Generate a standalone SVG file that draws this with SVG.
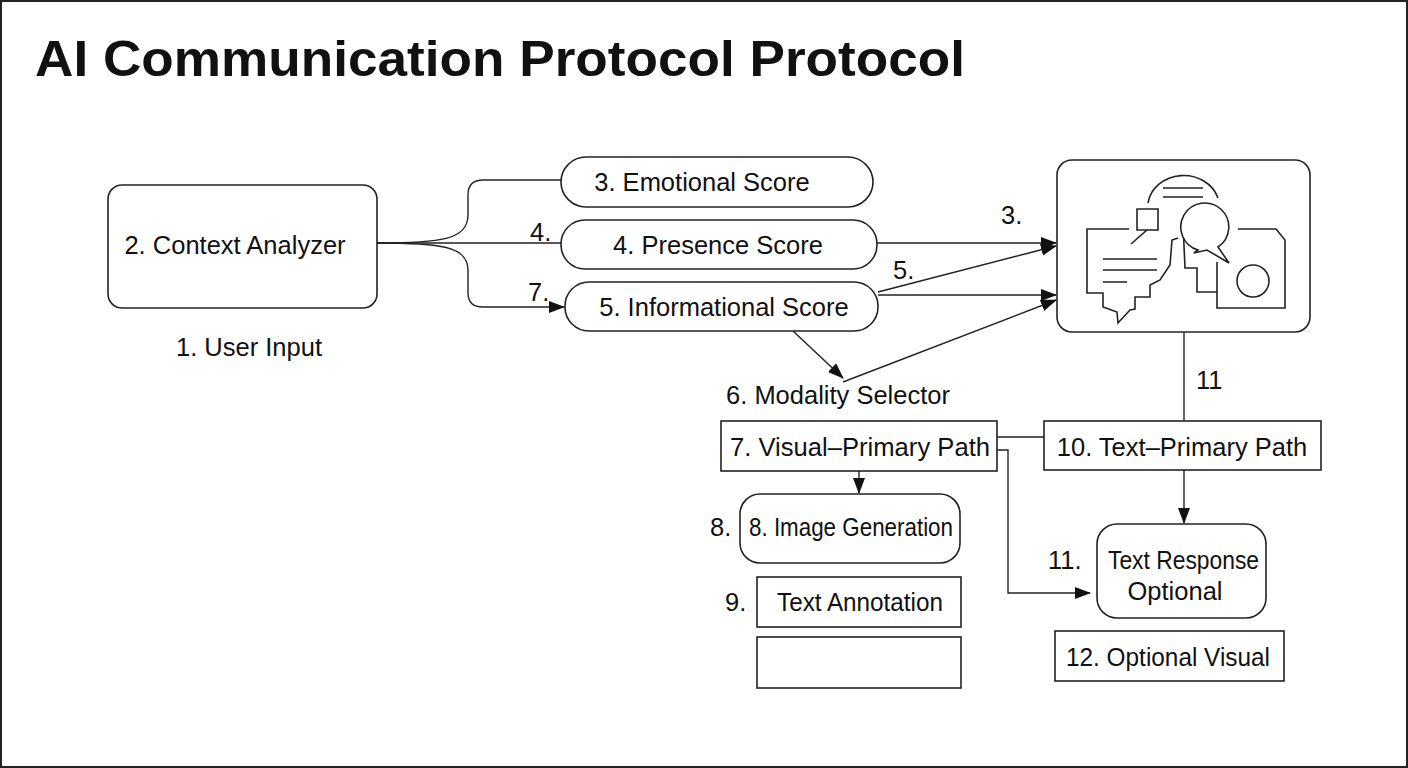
<svg xmlns="http://www.w3.org/2000/svg" width="1408" height="768" viewBox="0 0 1408 768">
<defs>
<marker id="ah" markerWidth="16" markerHeight="12" refX="15" refY="6" orient="auto" markerUnits="userSpaceOnUse"><path d="M0,0 L16,6 L0,12 z" fill="#111"/></marker>
<style>
.n{fill:#fff;stroke:#222;stroke-width:1.6}
.t{font-family:"Liberation Sans",Arial,sans-serif;font-size:25.5px;fill:#111;text-anchor:middle}
.l{font-family:"Liberation Sans",Arial,sans-serif;font-size:25.5px;fill:#111}
.c{fill:none;stroke:#222;stroke-width:1.4}
.i{fill:none;stroke:#222;stroke-width:1.6}
</style>
</defs>
<rect x="0" y="0" width="1408" height="768" fill="#fff"/>
<rect x="1" y="1" width="1406" height="766" fill="none" stroke="#222" stroke-width="2"/>
<text x="35" y="76" font-family="Liberation Sans,Arial,sans-serif" font-size="50" font-weight="bold" fill="#111" textLength="930" lengthAdjust="spacingAndGlyphs">AI Communication Protocol Protocol</text>

<g id="connectors">
<path class="c" d="M377,243 C440,243 468,240 468,215 L468,195 Q468,180 483,180 L561,180"/>
<path class="c" d="M377,243 L561,243"/>
<path class="c" d="M377,243 C440,243 468,246 468,270 L468,293 Q468,307 483,307 L564,307" marker-end="url(#ah)"/>
<path class="c" d="M877,243 L1056,243" marker-end="url(#ah)"/>
<path class="c" d="M878,295 L1056,295" marker-end="url(#ah)"/>
<path class="c" d="M878,292 L1056,246" marker-end="url(#ah)"/>
<path class="c" d="M793,331 L843,378" marker-end="url(#ah)"/>
<path class="c" d="M843,382 L1056,300" marker-end="url(#ah)"/>
<path class="c" d="M997,437 L1044,437"/>
<path class="c" d="M1184,332 L1184,421"/>
<path class="c" d="M859,471 L859,493" marker-end="url(#ah)"/>
<path class="c" d="M997,450 L1008,450 L1008,593 L1090,593" marker-end="url(#ah)"/>
<path class="c" d="M1184,470 L1184,523" marker-end="url(#ah)"/>
<text class="l" x="1001" y="224">3.</text>
<text class="l" x="530" y="241">4.</text>
<text class="l" x="528" y="301">7.</text>
<text class="l" x="893" y="279">5.</text>
<text class="l" x="1196" y="389">11</text>
</g>

<g id="n2"><rect class="n" x="108" y="185" width="269" height="123" rx="14"/><text class="t" x="235" y="254">2. Context Analyzer</text></g>
<g id="n1"><text class="t" x="249" y="356">1. User Input</text></g>
<g id="n3"><rect class="n" x="561" y="157" width="312" height="50" rx="25"/><text class="t" x="702" y="191">3. Emotional Score</text></g>
<g id="n4"><rect class="n" x="561" y="220" width="316" height="49" rx="24"/><text class="t" x="718" y="254">4. Presence Score</text></g>
<g id="n5"><rect class="n" x="565" y="282" width="313" height="49" rx="24"/><text class="t" x="724" y="316">5. Informational Score</text></g>
<g id="icon">
<rect class="n" x="1057" y="160" width="253" height="172" rx="15"/>
<path class="i" d="M1148,203 A36,32 0 0 1 1218,198"/>
<path class="i" d="M1163,188 L1203,188 M1163,197 L1203,197"/>
<path class="i" d="M1147,230 L1137,230 L1137,209 L1158,209 L1158,230 L1147,230 L1131,244"/>
<path class="i" d="M1129,229 L1087,229 L1087,293 L1103,293 L1103,307 L1117,312 L1118,323 L1130,310 L1135,309 L1135,297 L1150,297 L1150,285 L1160,280 L1170,265 L1172,240 L1178,238"/>
<path class="i" d="M1103,259 L1157,259 M1103,270 L1157,270 M1103,282 L1127,282"/>
<path class="i" d="M1183,223 L1185,268 L1197,268 L1197,292 L1217,292"/>
<path class="i" d="M1217,262 L1217,308 L1285,308 L1285,240 L1276,229 L1238,229"/>
<circle class="i" cx="1253" cy="281" r="16"/>
<path class="n" d="M1198,250 A24,24 0 1 1 1218,247 L1229,263 L1207,250 L1194,253 Z"/>
</g>
<g id="n6"><text class="t" x="838" y="404">6. Modality Selector</text></g>
<g id="n7"><rect class="n" x="721" y="421" width="276" height="50"/><text class="l" x="730" y="456" textLength="260" lengthAdjust="spacingAndGlyphs">7. Visual–Primary Path</text></g>
<g id="n10"><rect class="n" x="1044" y="421" width="277" height="49"/><text class="t" x="1182" y="456">10. Text–Primary Path</text></g>
<g id="n8"><rect class="n" x="740" y="494" width="220" height="69" rx="20"/><text class="l" x="749" y="536" font-size="23" textLength="204" lengthAdjust="spacingAndGlyphs">8. Image Generation</text><text class="l" x="710" y="536">8.</text></g>
<g id="n11"><rect class="n" x="1097" y="524" width="169" height="94" rx="20"/><text class="l" x="1108" y="569" textLength="151" lengthAdjust="spacingAndGlyphs">Text Response</text><text class="t" x="1175" y="600">Optional</text><text class="l" x="1048" y="569">11.</text></g>
<g id="n9"><rect class="n" x="757" y="577" width="204" height="50"/><text class="l" x="777" y="611" textLength="166" lengthAdjust="spacingAndGlyphs">Text Annotation</text><text class="l" x="725" y="611">9.</text></g>
<g id="n9b"><rect class="n" x="757" y="637" width="204" height="51"/></g>
<g id="n12"><rect class="n" x="1055" y="631" width="229" height="50"/><text class="l" x="1066" y="666" textLength="204" lengthAdjust="spacingAndGlyphs">12. Optional Visual</text></g>
</svg>
